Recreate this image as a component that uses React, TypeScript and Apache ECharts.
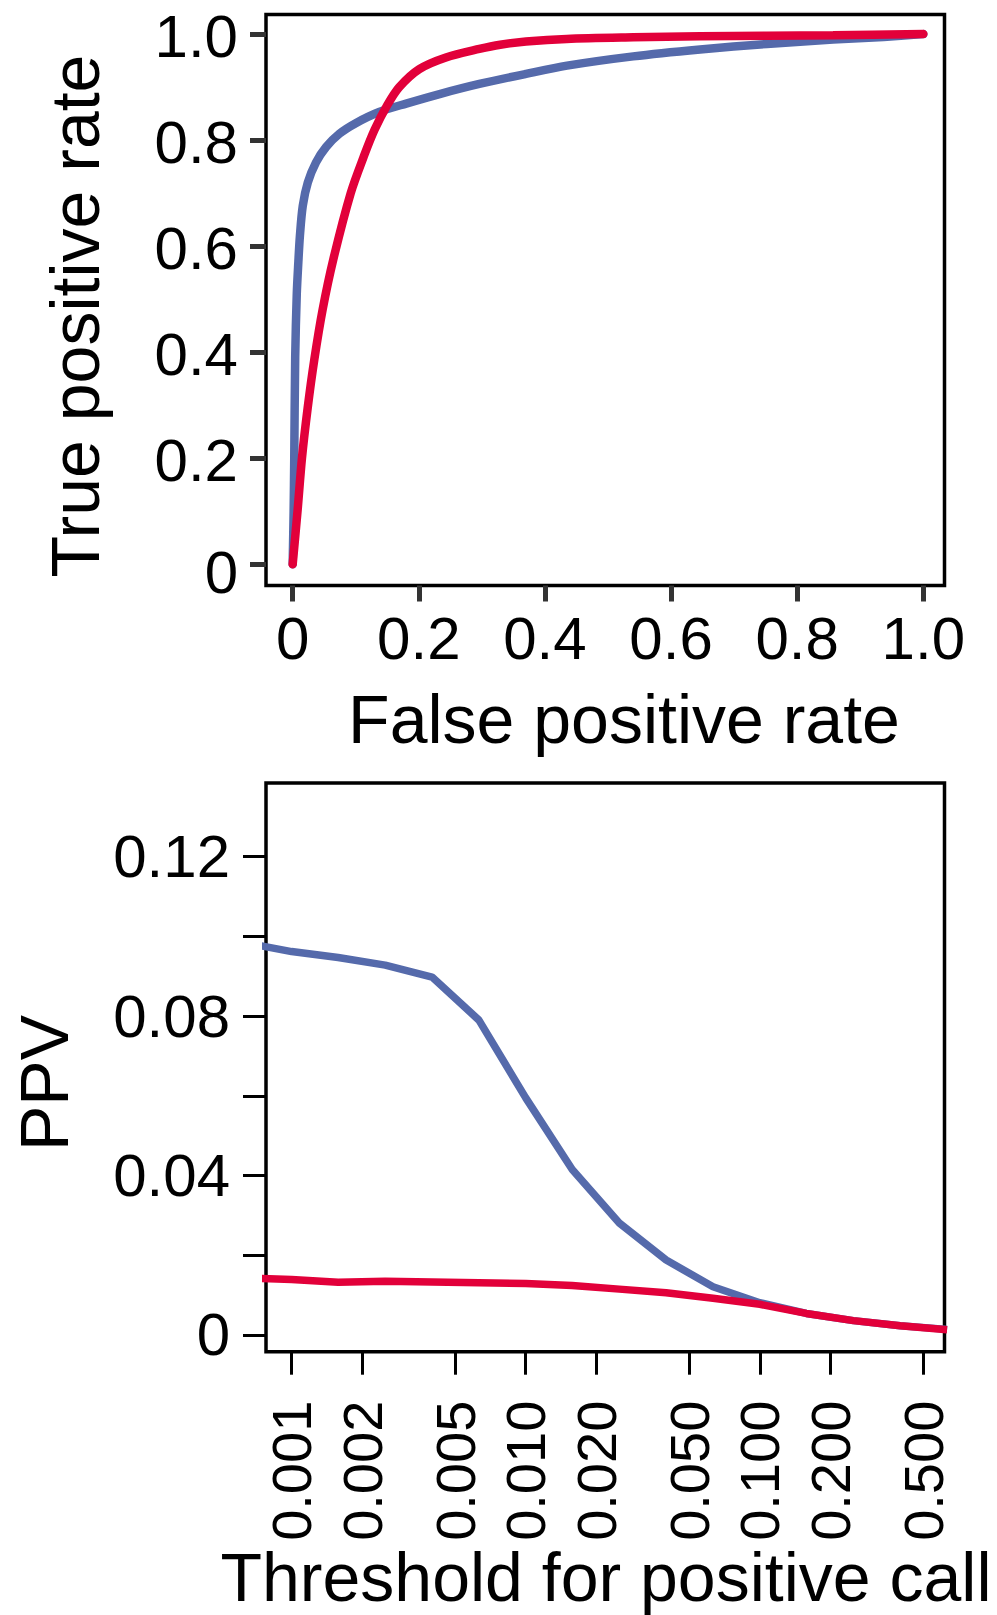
import React, { useEffect, useRef } from "react";
import * as echarts from "echarts";

// ---------- Data ----------
// ROC curves (false positive rate, true positive rate)
const rocBlue: [number, number][] = [
  [0, 0], [0.0015, 0.1], [0.0025, 0.2], [0.004, 0.39], [0.0065, 0.51], [0.009, 0.57],
  [0.0115, 0.62], [0.016, 0.676], [0.024, 0.72], [0.037, 0.758], [0.053, 0.787],
  [0.074, 0.812], [0.1, 0.832], [0.137, 0.853], [0.18, 0.869], [0.233, 0.887],
  [0.296, 0.906], [0.37, 0.925], [0.435, 0.9405], [0.54, 0.958], [0.646, 0.971],
  [0.752, 0.9815], [0.857, 0.9896], [0.937, 0.9947], [1, 1],
];
const rocRed: [number, number][] = [
  [0, 0], [0.0079, 0.103], [0.0147, 0.2], [0.0238, 0.295], [0.0343, 0.386],
  [0.0476, 0.481], [0.0644, 0.575], [0.092, 0.7], [0.113, 0.77], [0.13, 0.82],
  [0.15, 0.866], [0.169, 0.9], [0.2008, 0.934], [0.243, 0.956], [0.296, 0.972],
  [0.329, 0.98], [0.37, 0.986], [0.4345, 0.991], [0.54, 0.994], [0.646, 0.996],
  [0.752, 0.997], [0.857, 0.998], [1, 1],
];
const rocTicks = [0, 0.2, 0.4, 0.6, 0.8, 1.0];

// PPV vs threshold
const thresholds = [
  0.00063, 0.001, 0.00158, 0.00251, 0.00398, 0.00631, 0.01, 0.0158, 0.0251,
  0.0398, 0.0631, 0.1, 0.158, 0.251, 0.398, 0.631,
];
const ppvBlue = [
  0.0984, 0.0962, 0.0947, 0.0928, 0.0898, 0.079, 0.0595, 0.0415, 0.0281,
  0.0188, 0.0121, 0.0081, 0.0054, 0.0036, 0.0023, 0.0014,
];
const ppvRed = [
  0.0143, 0.0139, 0.0132, 0.0135, 0.0133, 0.0131, 0.0129, 0.0124, 0.0115,
  0.0106, 0.0092, 0.0077, 0.0054, 0.0036, 0.0023, 0.0013,
];
const thresholdTicks = [0.001, 0.002, 0.005, 0.01, 0.02, 0.05, 0.1, 0.2, 0.5];
const ppvTicks = [0, 0.02, 0.04, 0.06, 0.08, 0.1, 0.12];
const ppvLabels = [0, 0.04, 0.08, 0.12];

// ---------- Styles ----------
const BLUE = "#556aab";
const RED = "#e2003a";
const TICK_FONT = "'Liberation Sans', Arial, sans-serif";
const TITLE_FONT = "'Liberation Sans', Arial, sans-serif";

export default function App() {
  const ref = useRef<HTMLDivElement>(null);

  useEffect(() => {
    if (!ref.current) return;
    const chart = echarts.init(ref.current, null, { renderer: "svg" });

    const rocFmt = (v: number) => (Math.abs(v) < 1e-9 ? "0" : v.toFixed(1));
    const rocYFmt = (v: number) => (Math.abs(v) < 1e-9 ? "{z|0}" : "{n|" + v.toFixed(1) + "}");
    const ppvFmt = (v: number) => (Math.abs(v) < 1e-9 ? "0" : v.toFixed(2));
    const thrFmt = (v: number) => Math.pow(10, v).toFixed(3);

    const tickLabelBase = { fontSize: 60, fontFamily: TICK_FONT, color: "#000" };

    chart.setOption({
      animation: false,
      backgroundColor: "#fff",
      grid: [
        { left: 266, width: 678.5, top: 14.5, height: 571, show: true, borderColor: "#000", borderWidth: 3.5, backgroundColor: "transparent" },
        { left: 266, width: 678.5, top: 783, height: 568.7, show: true, borderColor: "#000", borderWidth: 3.5, backgroundColor: "transparent" },
      ],
      xAxis: [
        {
          gridIndex: 0, type: "value", min: -0.0423, max: 1.0336, position: "bottom",
          axisLine: { show: false, onZero: false }, splitLine: { show: false },
          axisTick: { show: true, customValues: rocTicks, length: 16, lineStyle: { color: "#333", width: 5 } },
          axisLabel: { ...tickLabelBase, customValues: rocTicks, formatter: rocFmt, margin: 23 },
        },
        {
          gridIndex: 1, type: "value", min: -3.1095, max: -0.211, position: "bottom",
          axisLine: { show: false, onZero: false }, splitLine: { show: false },
          axisTick: { show: true, customValues: thresholdTicks.map((t) => Math.log10(t)), length: 23, lineStyle: { color: "#000", width: 3 } },
          axisLabel: { ...tickLabelBase, fontSize: 56, customValues: thresholdTicks.map((t) => Math.log10(t)), formatter: thrFmt, rotate: 90, margin: 49 },
        },
      ],
      yAxis: [
        {
          gridIndex: 0, type: "value", min: -0.04, max: 1.037, position: "left",
          axisLine: { show: false, onZero: false }, splitLine: { show: false },
          axisTick: { show: true, customValues: rocTicks, length: 16, lineStyle: { color: "#333", width: 5 } },
          axisLabel: {
            ...tickLabelBase, customValues: rocTicks, formatter: rocYFmt, margin: 28,
            rich: {
              z: { fontSize: 60, fontFamily: TICK_FONT, color: "#000", padding: [16, 0, 0, 0] },
              n: { fontSize: 60, fontFamily: TICK_FONT, color: "#000", padding: [4, 0, 0, 0] },
            },
          },
        },
        {
          gridIndex: 1, type: "value", min: -0.0042, max: 0.1385, position: "left",
          axisLine: { show: false, onZero: false }, splitLine: { show: false },
          axisTick: { show: true, customValues: ppvTicks, length: 23, lineStyle: { color: "#000", width: 3 } },
          axisLabel: { ...tickLabelBase, customValues: ppvLabels, formatter: ppvFmt, margin: 36 },
        },
      ],
      series: [
        {
          type: "line", xAxisIndex: 0, yAxisIndex: 0, data: rocBlue, showSymbol: false,
          smooth: 0.3, clip: true, z: 2, lineStyle: { color: BLUE, width: 8.5, cap: "round" },
        },
        {
          type: "line", xAxisIndex: 0, yAxisIndex: 0, data: rocRed, showSymbol: false,
          smooth: 0.3, clip: true, z: 3, lineStyle: { color: RED, width: 8.5, cap: "round" },
        },
        {
          type: "line", xAxisIndex: 1, yAxisIndex: 1,
          data: thresholds.map((t, i) => [Math.log10(t), ppvBlue[i]]),
          showSymbol: false, clip: true, z: 2, lineStyle: { color: BLUE, width: 7.5 },
        },
        {
          type: "line", xAxisIndex: 1, yAxisIndex: 1,
          data: thresholds.map((t, i) => [Math.log10(t), ppvRed[i]]),
          showSymbol: false, clip: true, z: 3, lineStyle: { color: RED, width: 7.5 },
        },
      ],
      graphic: [
        {
          type: "text", x: 75, y: 316, rotation: Math.PI / 2,
          style: { text: "True positive rate", fontSize: 68, fontFamily: TITLE_FONT, fill: "#000", align: "center", verticalAlign: "middle" },
        },
        {
          type: "text", x: 624, y: 719,
          style: { text: "False positive rate", fontSize: 68, fontFamily: TITLE_FONT, fill: "#000", align: "center", verticalAlign: "middle" },
        },
        {
          type: "text", x: 44, y: 1083, rotation: Math.PI / 2,
          style: { text: "PPV", fontSize: 68, fontFamily: TITLE_FONT, fill: "#000", align: "center", verticalAlign: "middle" },
        },
        {
          type: "text", x: 606, y: 1577,
          style: { text: "Threshold for positive call", fontSize: 68, fontFamily: TITLE_FONT, fill: "#000", align: "center", verticalAlign: "middle" },
        },
      ],
    });

    return () => chart.dispose();
  }, []);

  return (
    <div
      ref={ref}
      style={{ position: "absolute", left: 0, top: 0, width: 997, height: 1615, background: "#fff" }}
    />
  );
}
